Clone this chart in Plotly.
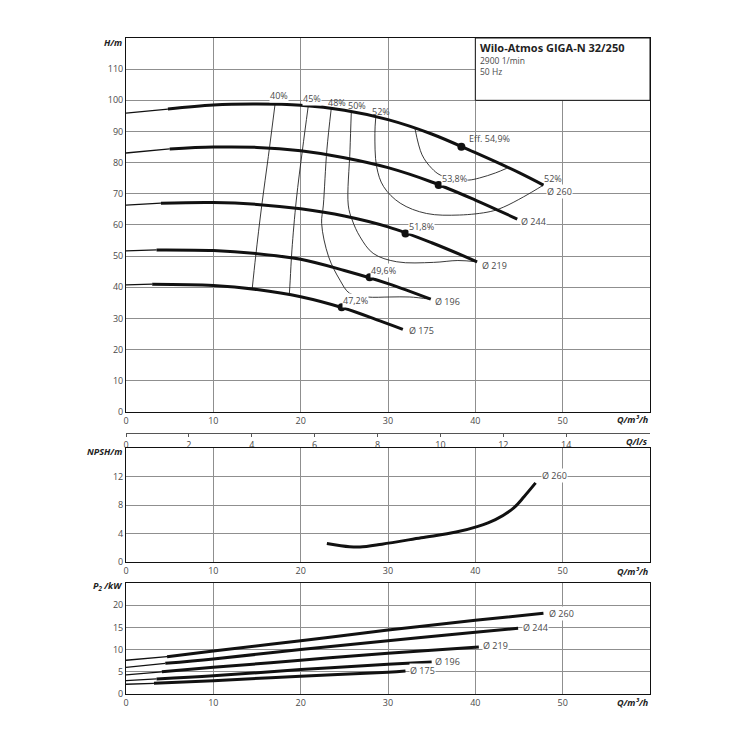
import plotly.graph_objects as go

FONT = "Open Sans"
GRID = "#8f8f8f"
TXT = "#4a4a4a"
INK = "#111111"

# --- Q-H curves (Q in m³/h, H in m); first segment is the thin extension
q_260 = [0, 4.8, 10, 15, 20, 25, 30, 35, 40, 45, 47.8]
h_260 = [95.9, 97.2, 98.5, 98.8, 98.4, 96.8, 93.8, 89.2, 83.2, 76.8, 72.8]
q_244 = [0, 5, 10, 15, 20, 25, 30, 35, 40, 44.8]
h_244 = [83.1, 84.4, 85.0, 84.9, 83.8, 81.6, 78.4, 73.8, 68.0, 61.9]
q_219 = [0, 4, 10, 15, 20, 25, 30, 35, 40.2]
h_219 = [66.4, 67.0, 67.2, 66.6, 65.2, 62.9, 59.4, 54.3, 48.2]
q_196 = [0, 3.5, 10, 15, 20, 25, 30, 34.9]
h_196 = [51.7, 52.0, 51.8, 50.8, 49.0, 45.4, 41.2, 36.2]
q_175 = [0, 3, 10, 15, 20, 25, 29, 31.7]
h_175 = [40.8, 41.0, 40.6, 39.3, 37.0, 33.3, 29.3, 26.5]

diam_labels = ["Ø 260", "Ø 244", "Ø 219", "Ø 196", "Ø 175"]
end_lab_q = [48.1, 45.1, 40.7, 35.3, 32.3]
end_lab_h = [70.7, 61.0, 47.1, 35.5, 26.2]

# best efficiency points
bep_q = [38.4, 35.8, 32.0, 27.9, 24.7]
bep_h = [85.1, 72.8, 57.3, 43.2, 33.6]
bep_text = ["Eff. 54,9%", "53,8%", "51,8%", "49,6%", "47,2%"]
bep_lab_q = [41.6, 37.6, 33.8, 29.5, 26.3]
bep_lab_h = [87.6, 75.0, 59.5, 45.5, 35.9]

# iso-efficiency lines
iso_40_q = [17.06, 16.3, 15.55, 14.85, 14.45]
iso_40_h = [98.6, 82, 66.4, 50, 39.5]
iso_45_q = [20.87, 20.2, 19.5, 19.0, 18.8, 18.7]
iso_45_h = [98.2, 84, 68, 52, 42.3, 37.6]
iso_48_q = [23.5, 23.0, 22.6, 22.4, 23.2, 24.5, 25.6, 27.6, 30.2, 32.5, 34.8]
iso_48_h = [97.3, 84.1, 66.4, 60.5, 49.8, 42.3, 38.1, 36.9, 36.9, 36.9, 36.2]
iso_50_q = [25.8, 25.65, 25.45, 25.9, 26.8, 28.3, 31.0, 35.2, 38.0, 40.2]
iso_50_h = [96.4, 84.1, 66.4, 61.6, 56.2, 50.9, 48.2, 48.0, 48.6, 48.2]
iso_52_q = [28.6, 28.5, 28.7, 29.5, 31.4, 34.4, 38.2, 41.7, 43.2, 45.5, 47.8]
iso_52_h = [94.6, 89.4, 78.7, 72.3, 67.0, 63.7, 63.2, 64.3, 65.7, 69.0, 72.8]
iso_538_q = [33.1, 33.9, 35.0, 36.0, 37.7, 39.2, 40.5, 42.3, 43.6]
iso_538_h = [90.8, 82.5, 78.2, 76.0, 74.8, 74.4, 75.1, 76.7, 78.2]

iso_text = ["40%", "45%", "48%", "50%", "52%", "52%"]
iso_lab_q = [17.5, 21.3, 24.2, 26.5, 29.2, 48.9]
iso_lab_h = [101.4, 100.6, 99.4, 98.3, 96.4, 74.8]
iso_lab_bg = [True, True, False, False, False, False]

# NPSH curve (Ø 260)
npsh_q = [23.0, 25.6, 26.8, 29.3, 33.8, 37.8, 40.3, 42.3, 44.4, 45.6, 46.9]
npsh_m = [2.6, 2.14, 2.1, 2.5, 3.4, 4.2, 5.0, 5.95, 7.6, 9.2, 11.1]

# P2 curves (kW)
pq_260 = [0, 4.7, 10, 20, 30, 40, 47.8]
p_260 = [7.6, 8.4, 9.7, 12.0, 14.4, 16.6, 18.2]
pq_244 = [0, 4.5, 10, 20, 30, 40, 44.9]
p_244 = [6.0, 6.9, 7.9, 10.0, 12.0, 13.9, 14.8]
pq_219 = [0, 4.1, 10, 20, 30, 40.4]
p_219 = [4.3, 5.0, 6.0, 7.6, 9.2, 10.6]
pq_196 = [0, 3.5, 10, 20, 30, 35]
p_196 = [3.0, 3.4, 4.1, 5.5, 6.7, 7.2]
pq_175 = [0, 3.2, 10, 20, 30, 32]
p_175 = [2.2, 2.4, 3.0, 4.0, 4.9, 5.2]
p_lab_q = [48.3, 45.3, 40.8, 35.3, 32.4]
p_lab_v = [18.1, 14.9, 10.85, 7.4, 5.2]

q_ticks = [0, 10, 20, 30, 40, 50]
ls_ticks = [0, 2, 4, 6, 8, 10, 12, 14]

fig = go.Figure()


def curve(q, v, xa, ya):
    # thin extension then thick operating range
    fig.add_trace(go.Scatter(x=q[:2], y=v[:2], mode="lines", xaxis=xa, yaxis=ya,
                             line=dict(color=INK, width=1.3), hoverinfo="skip"))
    fig.add_trace(go.Scatter(x=q[1:], y=v[1:], mode="lines", xaxis=xa, yaxis=ya,
                             line=dict(color=INK, width=3, shape="spline"),
                             hoverinfo="skip"))


def thin(q, v):
    fig.add_trace(go.Scatter(x=q, y=v, mode="lines", xaxis="x", yaxis="y",
                             line=dict(color="#222", width=0.9, shape="spline"),
                             hoverinfo="skip"))


for q, v in [(iso_40_q, iso_40_h), (iso_45_q, iso_45_h), (iso_48_q, iso_48_h),
             (iso_50_q, iso_50_h), (iso_52_q, iso_52_h), (iso_538_q, iso_538_h)]:
    thin(q, v)

for q, v in [(q_260, h_260), (q_244, h_244), (q_219, h_219), (q_196, h_196), (q_175, h_175)]:
    curve(q, v, "x", "y")

fig.add_trace(go.Scatter(x=bep_q, y=bep_h, mode="markers", xaxis="x", yaxis="y",
                         marker=dict(color=INK, size=8), hoverinfo="skip"))

fig.add_trace(go.Scatter(x=npsh_q, y=npsh_m, mode="lines", xaxis="x2", yaxis="y2",
                         line=dict(color=INK, width=3, shape="spline"), hoverinfo="skip"))

for q, v in [(pq_260, p_260), (pq_244, p_244), (pq_219, p_219), (pq_196, p_196), (pq_175, p_175)]:
    curve(q, v, "x3", "y3")

# dummy trace so the l/s axis gets drawn
fig.add_trace(go.Scatter(x=[0], y=[None], xaxis="x4", yaxis="y", mode="markers",
                         hoverinfo="skip"))

ann = []


def label(text, x, y, xr, yr, anchor="center", bg=True, size=9):
    ann.append(dict(text=text, x=x, y=y, xref=xr, yref=yr, showarrow=False,
                    xanchor=anchor, yanchor="middle",
                    font=dict(family=FONT, size=size, color=TXT),
                    bgcolor="white" if bg else "rgba(0,0,0,0)", borderpad=0))


for t, x, y, b in zip(iso_text, iso_lab_q, iso_lab_h, iso_lab_bg):
    label(t, x, y, "x", "y", bg=b)
for i, (t, x, y) in enumerate(zip(bep_text, bep_lab_q, bep_lab_h)):
    label(t, x, y, "x", "y", bg=(i > 0))
for t, x, y in zip(diam_labels, end_lab_q, end_lab_h):
    label(t, x, y, "x", "y", anchor="left")
label("Ø 260", 47.5, 12.1, "x2", "y2", anchor="left")
for t, x, y in zip(diam_labels, p_lab_q, p_lab_v):
    label(t, x, y, "x3", "y3", anchor="left")

# title box text
for t, y, s, bold in [("Wilo-Atmos GIGA-N 32/250", 117.0, 11, True),
                      ("2900 1/min", 112.9, 8.5, False),
                      ("50 Hz", 109.1, 8.5, False)]:
    ann.append(dict(text=f"<b>{t}</b>" if bold else t, x=40.35, y=y, xref="x", yref="y",
                    showarrow=False, xanchor="left", yanchor="middle",
                    font=dict(family=FONT, size=s, color="#222" if bold else TXT)))

# axis unit labels
for t, x, y in [("H/m", -0.004, 0.9924), ("NPSH/m", -0.004, 0.369),
                ("P<sub>2</sub> /kW", -0.004, 0.1646),
                ("Q/m³/h", 1.0, 0.4177), ("Q/l/s", 1.0, 0.3845),
                ("Q/m³/h", 1.0, 0.1875), ("Q/m³/h", 1.0, -0.0137)]:
    ann.append(dict(text=f"<b><i>{t}</i></b>", x=x, y=y, xref="paper", yref="paper",
                    showarrow=False, xanchor="right", yanchor="middle",
                    font=dict(family=FONT, size=9, color="#222")))

axis_common = dict(showgrid=True, gridcolor=GRID, gridwidth=1, zeroline=False,
                   showline=True, linecolor=INK, linewidth=1, mirror=True, ticks="",
                   tickfont=dict(family=FONT, size=9, color=TXT))

fig.update_layout(
    width=750, height=750,
    margin=dict(l=118, r=108, t=30, b=64),
    paper_bgcolor="white", plot_bgcolor="white",
    showlegend=False,
    annotations=ann,
    xaxis=dict(domain=[0, 1], range=[0, 60], anchor="y", tickvals=q_ticks, **axis_common),
    yaxis=dict(domain=[0.4299, 1], range=[0, 120], anchor="x",
               tickvals=list(range(0, 120, 10)), **axis_common),
    xaxis2=dict(domain=[0, 1], range=[0, 60], anchor="y2", tickvals=q_ticks, **axis_common),
    yaxis2=dict(domain=[0.2012, 0.375], range=[0, 16], anchor="x2",
                tickvals=[0, 4, 8, 12], **axis_common),
    xaxis3=dict(domain=[0, 1], range=[0, 60], anchor="y3", tickvals=q_ticks, **axis_common),
    yaxis3=dict(domain=[0, 0.1692], range=[0, 25], anchor="x3",
                tickvals=[0, 5, 10, 15, 20], **axis_common),
    xaxis4=dict(overlaying="x", anchor="free", position=0.3979, range=[0, 60 / 3.6],
                tickvals=ls_ticks, showgrid=False, zeroline=False, showline=True,
                linecolor="#555", linewidth=1, ticks="outside", ticklen=3,
                tickcolor="#555", side="bottom", ticklabelstandoff=0,
                tickfont=dict(family=FONT, size=9, color=TXT)),
    shapes=[dict(type="rect", xref="x", yref="y", x0=40, x1=60, y0=100, y1=120,
                 fillcolor="white", line=dict(color=INK, width=1), layer="above")],
)

fig.write_html("out.html")
